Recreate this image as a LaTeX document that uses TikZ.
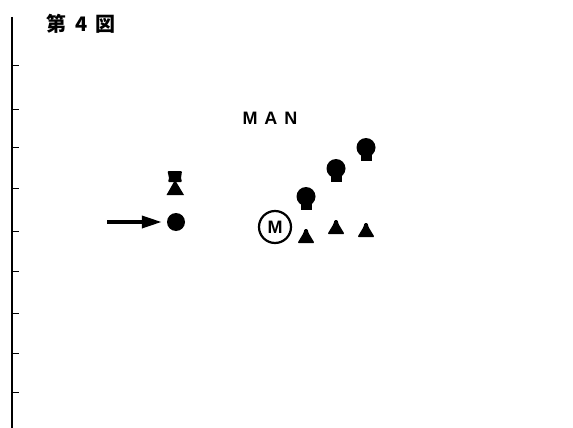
\documentclass[tikz,border=0pt]{standalone}
\usepackage{fontspec}
\setmainfont{Liberation Sans}
\newfontfamily\jpfont{Noto Sans CJK JP}
\usetikzlibrary{positioning,arrows.meta}

\tikzset{
  dot/.style={circle, fill, inner sep=0pt, minimum size=18pt},
  mark circle/.style={circle, draw, line width=2.2pt, inner sep=0pt, minimum size=32pt, font=\bfseries\fontsize{18}{18}\selectfont},
  bulb/.pic={
    \fill (0,-1.5) circle (9.5);
    \fill (-5.5,0) rectangle (5.5,12);
  },
  bell/.pic={
    \fill[rounded corners=1pt] (-8.5,7) -- (-2.5,-3) -- (-1.5,-7) -- (1.5,-7) -- (2.5,-3) -- (8.5,7) -- cycle;
  },
  hourglass/.pic={
    \fill[rounded corners=1pt] (-7.5,-12) -- (7,-12) -- (6,-5) -- (7,-1) -- (-7,-1) -- (-6,-5) -- cycle;
    \fill (0,-3) -- (9,12) -- (-8.5,12) -- cycle;
  }
}

\begin{document}
\begin{tikzpicture}[x=1pt, y=-1pt]
  \useasboundingbox (0,0) rectangle (573,428);
  % left scale
  \draw[line width=2pt] (12,17) -- (12,428);
  \foreach \ty in {66,109,147,188,231,271,313,353,392}
    \draw[line width=1pt] (12,\ty) -- (19,\ty);
  \node[font=\jpfont\bfseries\fontsize{20}{20}\selectfont, anchor=west, inner sep=0pt] (title) at (46,24) {第\hspace{9pt}4\hspace{8pt}図};
  \node[font=\bfseries\fontsize{18}{18}\selectfont] (man) at (270,118) {M\hspace{7pt}A\hspace{7pt}N};

  % left group
  \node[dot] (ball) at (176,222) {};
  \coordinate (tail) at (107,222);
  \draw[-{Triangle[length=20pt,width=12pt]}, line width=3.6pt, shorten >=5pt] (tail) -- (ball);
  \pic (glass) at (175,183) {hourglass};

  % right group
  \node[mark circle] (mark) at (275,227) {M};
  \pic (b1) at (306,198) {bulb};
  \pic (b2) at (336,170) {bulb};
  \pic (b3) at (366,149) {bulb};
  \pic (t1) at (306,236) {bell};
  \pic (t2) at (336,227) {bell};
  \pic (t3) at (366,230) {bell};
\end{tikzpicture}
\end{document}
